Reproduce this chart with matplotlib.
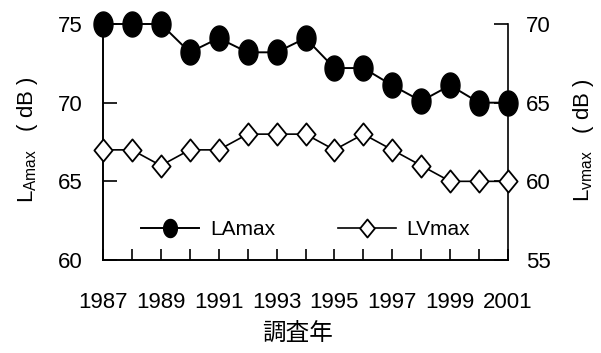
import numpy as np
import matplotlib
matplotlib.use('Agg')
import matplotlib.pyplot as plt
from matplotlib.path import Path
from matplotlib.lines import Line2D

plt.rcParams['font.family'] = ['Liberation Sans', 'Noto Sans CJK JP', 'DejaVu Sans']
plt.rcParams['mathtext.default'] = 'regular'

years = list(range(1987, 2002))
la_max = [75, 75, 75, 73.2, 74.1, 73.2, 73.2, 74.1, 72.2, 72.2, 71.1, 70.1, 71.1, 70.0, 70.0]
lv_max = [62, 62, 61, 62, 62, 63, 63, 63, 62, 63, 62, 61, 60, 60, 60]
year_labels = [str(y) if y % 2 == 1 else '' for y in years]

# tall ellipse and tall diamond markers
t = np.linspace(0, 2 * np.pi, 60)
ellipse = Path(np.column_stack([0.38 * np.cos(t), 0.5 * np.sin(t)]), closed=True)
diamond = Path([(0, 0.5), (0.41, 0), (0, -0.5), (-0.41, 0), (0, 0.5)], closed=True)

fig = plt.figure(figsize=(6.01, 3.53), dpi=100)
ax = fig.add_axes([103 / 601, 1 - 260 / 353, 405 / 601, 236 / 353])
ax2 = ax.twinx()

ax.plot(years, la_max, color='black', lw=1.4, marker=ellipse, ms=18,
        mfc='black', mec='black', clip_on=False, zorder=3)
ax2.plot(years, lv_max, color='black', lw=1.2, marker=diamond, ms=16,
         mfc='white', mec='black', mew=1.3, clip_on=False, zorder=3)

ax.set_xlim(1987, 2001)
ax.set_ylim(60, 75)
ax2.set_ylim(55, 70)
ax.set_yticks([60, 65, 70, 75])
ax2.set_yticks([55, 60, 65, 70])
ax.set_xticks(years)
ax.set_xticklabels(year_labels)

for a in (ax, ax2):
    a.spines['top'].set_visible(False)
    for s in a.spines.values():
        s.set_linewidth(1.2)
ax.spines['right'].set_visible(False)

ax.tick_params(axis='y', direction='in', length=10, width=1.2, pad=15, labelsize=16)
ax.tick_params(axis='x', direction='in', length=8, width=1.2, pad=23, labelsize=16)
ax2.tick_params(axis='y', direction='in', length=10, width=1.2, labelsize=16)
ax2.yaxis.set_tick_params(pad=13)

fig.text(298 / 601, 1 - 333 / 353, '調査年', family='Noto Sans CJK JP',
         ha='center', va='center', fontsize=17)

fig.text(28 / 601, 1 - 140 / 353, r'L$_{\mathregular{Amax}}$   ( dB )', rotation=90,
         ha='center', va='center', fontsize=16)
fig.text(583 / 601, 1 - 140 / 353, r'L$_{\mathregular{vmax}}$   ( dB )', rotation=90,
         ha='center', va='center', fontsize=16)

handles = [
    Line2D([], [], color='black', lw=1.4, marker=ellipse, ms=13, mfc='black', mec='black'),
    Line2D([], [], color='black', lw=1.2, marker=diamond, ms=13, mfc='white', mec='black', mew=1.3),
]
ax2.legend(handles, ['LAmax', 'LVmax'], ncol=2, frameon=False, fontsize=15,
           loc='center', bbox_to_anchor=(0.5, 0.13), handlelength=2.8,
           handletextpad=0.5, columnspacing=3.0)

fig.savefig('out.png', dpi=100)
